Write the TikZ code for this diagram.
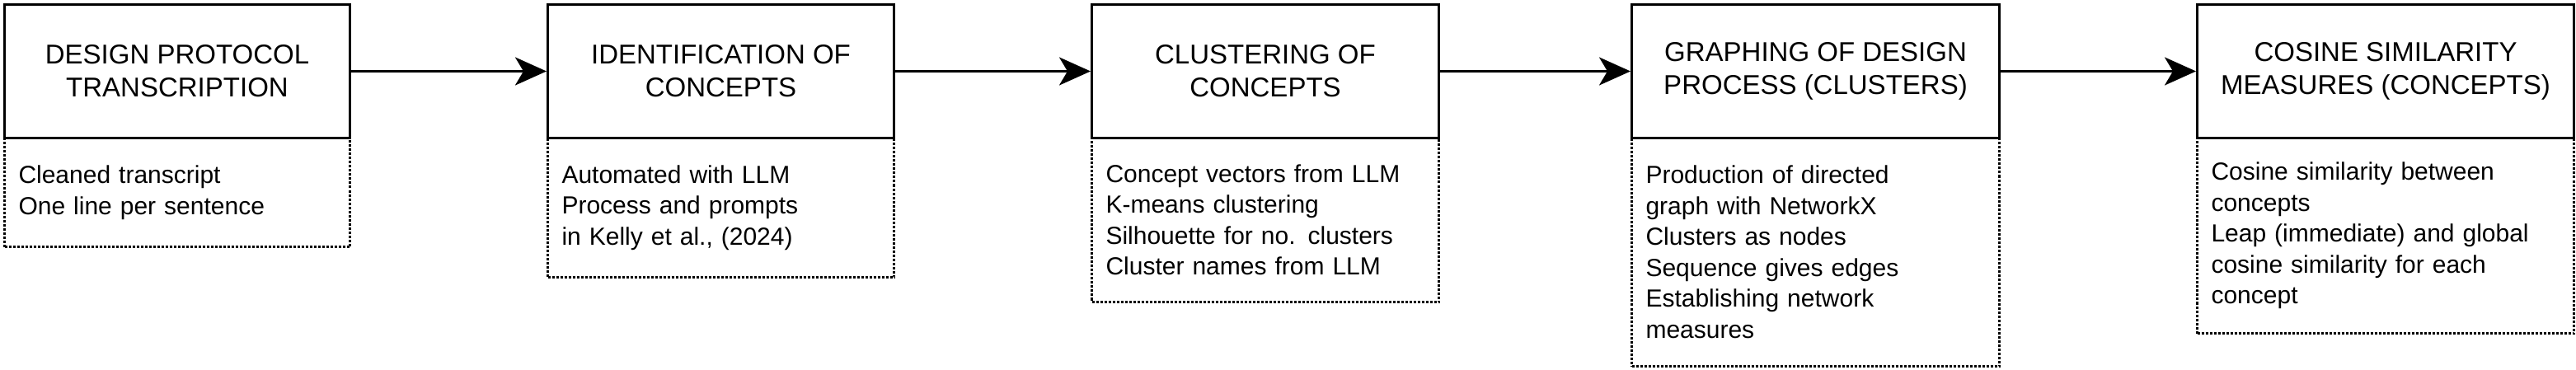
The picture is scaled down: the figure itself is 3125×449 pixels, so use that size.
\documentclass[tikz,border=0pt]{standalone}
\usepackage{fontspec}
\setmainfont{Liberation Sans}
\usetikzlibrary{arrows.meta}
\begin{document}
\begin{tikzpicture}[x=1pt,y=1pt,
  head/.style={draw,line width=3pt,anchor=north west,minimum height=162pt,align=center,inner sep=0pt,
    font=\fontsize{33}{40}\selectfont},
  body/.style={draw,dotted,line width=3pt,anchor=north west,align=left,inner xsep=17pt,inner ysep=0pt,
    font=\fontsize{30}{37.5}\selectfont},
  arr/.style={line width=3pt,-{Stealth[length=38pt,width=34pt,inset=10pt]}}]
\useasboundingbox (0,0) rectangle (3125,-449);
\node[head,minimum width=419pt] (h1) at (4,-4) {DESIGN PROTOCOL\\TRANSCRIPTION};
\node[head,minimum width=420pt] (h2) at (663,-4) {IDENTIFICATION OF\\CONCEPTS};
\node[head,minimum width=421pt] (h3) at (1323,-4) {CLUSTERING OF\\CONCEPTS};
\node[head,minimum width=446pt] (h4) at (1978,-4) {GRAPHING OF DESIGN\\PROCESS (CLUSTERS)};
\node[head,minimum width=457pt] (h5) at (2664,-4) {COSINE SIMILARITY\\MEASURES (CONCEPTS)};
\node[body,text width=385pt,minimum height=132pt] (b1) at (4,-166) {Cleaned transcript\\One line per sentence};
\node[body,text width=386pt,minimum height=169pt] (b2) at (663,-166) {Automated with LLM\\Process and prompts\\in Kelly et al., (2024)};
\node[body,text width=387pt,minimum height=199pt] (b3) at (1323,-166) {Concept vectors from LLM\\K-means clustering\\Silhouette for no. clusters\\Cluster names from LLM};
\node[body,text width=412pt,minimum height=277pt] (b4) at (1978,-166) {Production of directed\\graph with NetworkX\\Clusters as nodes\\Sequence gives edges\\Establishing network\\measures};
\node[body,text width=423pt,minimum height=237pt] (b5) at (2664,-166) {Cosine similarity between\\concepts\\Leap (immediate) and global\\cosine similarity for each\\concept};
\draw[arr] (h1) -- (h2);
\draw[arr] (h2) -- (h3);
\draw[arr] (h3) -- (h4);
\draw[arr] (h4) -- (h5);
\end{tikzpicture}
\end{document}
